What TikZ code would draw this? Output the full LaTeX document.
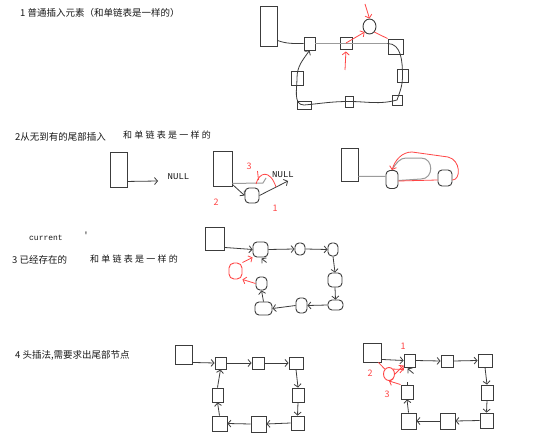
\documentclass[tikz,border=0pt]{standalone}
\usepackage{fontspec}
\newfontfamily\cjk{Noto Sans CJK SC}
\newfontfamily\cjkwide{Noto Sans CJK SC}[LetterSpace=25]
\newfontfamily\mono{Liberation Mono}
\usetikzlibrary{arrows.meta,shapes.geometric,calc}
\definecolor{ink}{RGB}{60,60,60}
\definecolor{pale}{RGB}{155,155,155}
\definecolor{pen}{RGB}{255,70,70}
\definecolor{txt}{RGB}{25,25,25}
\tikzset{
  sq/.style 2 args={draw=ink, line width=0.9pt, inner sep=0pt,
    minimum width=#1pt, minimum height=#2pt},
  rnd/.style 2 args={sq={#1}{#2}, rounded corners=4pt},
  ell/.style 2 args={sq={#1}{#2}, ellipse},
  ln/.style={draw=ink, line width=0.8pt},
  paleln/.style={draw=pale, line width=1pt},
  penln/.style={draw=pen, line width=0.8pt},
  arr/.style={-{Straight Barb[length=3pt,width=7pt]}},
  ttl/.style={anchor=west, inner sep=0pt, text=txt,
    font=\cjk\fontsize{9.5}{11}\selectfont},
  ttlw/.style={anchor=west, inner sep=0pt, text=txt,
    font=\cjkwide\fontsize{9}{11}\selectfont},
  nul/.style={inner sep=0pt, text=txt, font=\mono\fontsize{9}{10}\selectfont},
  lbl/.style={inner sep=0pt, text=pen, font=\cjk\fontsize{9}{10}\selectfont}
}
\begin{document}
\begin{tikzpicture}[x=1pt,y=1pt]
\useasboundingbox[fill=white] (0,0) rectangle (554,-441);

% ---------- 1: ordinary insertion ----------
\node[ttl] (h1) at (20,-12.5) {1 普通插入元素（和单链表是一样的）};
\node[sq={17}{40}] (r1) at (268.5,-26) {};
\node[sq={11}{13}] (b1) at (309.5,-43.5) {};
\node[sq={12}{12}] (b2) at (346,-43) {};
\node[ell={13}{15}] (e1) at (369.5,-26.5) {};
\node[sq={15}{15}] (b3) at (395.5,-46.5) {};
\node[sq={11}{13}] (b4) at (402.5,-75.5) {};
\node[sq={10}{10}] (b5) at (397,-100) {};
\node[sq={8}{11}]  (b6) at (349,-101.5) {};
\node[sq={14}{8}]  (b7) at (304,-105) {};
\node[sq={12}{14}] (b8) at (297,-78) {};
\draw[ln] ([yshift=6pt]r1.south east) to[out=-20,in=180] (b1.west);
\draw[paleln] (b1.east) -- ([yshift=3pt]b3.west);
\draw[ln,arr] ([yshift=3pt]b3.west) to[out=0,in=90] (b4.center)
  to[out=-90,in=70] (b5.center) to[out=-165,in=0] (b6.center)
  to[out=180,in=5] (b7.center) to[out=180,in=-90] (b8.center)
  to[out=90,in=-125] (b1.south);
\draw[penln,arr] (b2.center) -- (e1.south west);
\draw[penln] (e1.south east) -- (b3.north west);
\coordinate (t1) at (365,-4);
\draw[penln,arr] (t1) -- (e1.north);
\coordinate (t2) at (345,-70);
\draw[penln,arr,shorten >=2pt] (t2) -- (b2.south);

% ---------- 2: tail insertion from empty ----------
\node[ttl] (h2) at (15,-137) {2从无到有的尾部插入};
\node[ttlw] (h2b) at (123,-135) {和单链表是一样的};
\node[sq={17}{35}] (s1) at (118.5,-169.5) {};
\node[nul] (n1) at (178.5,-177) {NULL};
\coordinate (n1a) at (158,-181);
\draw[ln,arr] ([yshift=6pt]s1.south east) -- (n1a);

\node[sq={19}{35}] (s2) at (222.5,-168.5) {};
\node[rnd={14}{15}] (c1) at (252,-195.5) {};
\node[nul] (n2) at (283,-175) {NULL};
\coordinate (g1) at (263,-183);
\draw[paleln] ([yshift=3pt]s2.south east) -- (g1) -- ++(3,5);
\draw[ln,arr] ([yshift=2pt]s2.south east) -- (c1.west);
\coordinate (n2a) at (288,-181);
\draw[ln,arr] (c1.east) -- (n2a);
\draw[penln] (257.5,-171) -- (258.5,-180);
\draw[penln] (256,-184) .. controls (259,-172) and (270,-169) .. (276,-187);
\node[lbl] (l3a) at (249,-166) {3};
\node[lbl] (l2a) at (216,-202) {2};
\node[lbl] (l1a) at (275,-208) {1};

\node[sq={17}{33}] (s3) at (349.5,-164.5) {};
\node[rnd={12}{18}] (d1) at (392,-179.5) {};
\node[rnd={14}{16}] (d2) at (445,-178) {};
\draw[paleln] ([yshift=5pt]s3.south east) -- ([yshift=3pt]d1.west);
\draw[paleln] ([yshift=-1pt]d1.east) -- (421,-179)
  .. controls (434,-179) and (434,-158) .. (421,-158) -- (406,-158)
  .. controls (400,-158) and (396,-163) .. (d1.north);
\draw[penln] ([yshift=-1.5pt]d1.east) -- ([yshift=-2pt]d2.west);
\draw[penln,arr] ([yshift=-2pt]d2.east) .. controls (461,-180) and (461,-160) .. (448,-157)
  -- (412,-152) .. controls (402,-152) and (395,-160) .. (d1.north);

% ---------- 3: existing list ----------
\node[nul,font=\mono\fontsize{8}{9}\selectfont] (cur) at (46,-238) {current};
\node[nul] (tick) at (86,-235) {'};
\node[ttl] (h3) at (12,-259.5) {3 已经存在的};
\node[ttlw] (h3b) at (90,-259.5) {和单链表是一样的};
\node[sq={19}{23}] (q0) at (214.5,-238.5) {};
\node[rnd={15}{15}] (q1) at (260.5,-249.5) {};
\node[rnd={10}{12}] (q2) at (300,-249) {};
\node[rnd={10}{13}] (q3) at (333,-249.5) {};
\node[rnd={14}{14}] (q4) at (335,-280) {};
\node[rnd={15}{10}] (q5) at (335.5,-305) {};
\node[rnd={11}{15}] (q6) at (301.5,-305.5) {};
\node[rnd={17}{13}] (q7) at (263.5,-308.5) {};
\node[rnd={11}{13}] (q8) at (261.5,-283.5) {};
\node[draw=pen,line width=0.9pt,inner sep=0pt,minimum width=13pt,
  minimum height=16pt,rounded corners=5pt] (qr) at (235.5,-271) {};
\draw[ln,arr] ([yshift=3pt]q0.south east) -- (q1.west);
\draw[ln,arr] (q1.east) -- (q2.west);
\draw[ln,arr] (q2.east) -- (q3.west);
\draw[ln,arr] (q3.south) -- (q4.north);
\draw[ln,arr] (q4.south) -- (q5.north);
\draw[ln,arr] (q5.west) -- (q6.east);
\draw[ln,arr] (q6.west) -- (q7.east);
\draw[ln,arr] (q7.north) -- (q8.south);
\draw[penln,arr] (q8.west) -- (qr.south east);
\draw[penln,arr] (qr.north east) -- (q1.south west);
\draw[ln,arr] ($(q1.south)+(6,-5)$) -- ($(q1.south)+(1,-1)$);

% ---------- 4: head insertion ----------
\node[ttl] (h4) at (15,-355.5) {4 头插法,需要求出尾部节点};
\node[sq={17}{19}] (P0) at (183.5,-354.5) {};
\node[sq={11}{12}] (A) at (220.5,-363) {};
\node[sq={12}{12}] (B) at (258,-363) {};
\node[sq={14}{12}] (C) at (296,-363) {};
\node[sq={12}{14}] (D) at (298,-395) {};
\node[sq={13}{14}] (E) at (297.5,-423) {};
\node[sq={15}{16}] (F) at (258.5,-424) {};
\node[sq={15}{15}] (G) at (219.5,-423.5) {};
\node[sq={11}{14}] (H) at (217.5,-395) {};
\draw[ln,arr] ([yshift=2pt]P0.south east) -- (A.west);
\draw[ln,arr] (A.east) -- (B.west);
\draw[ln,arr] (B.east) -- (C.west);
\draw[ln,arr] (C.south) -- (D.north);
\draw[ln,arr] (D.south) -- (E.north);
\draw[ln,arr] (E.west) -- (F.east);
\draw[ln,arr] (F.west) -- (G.east);
\draw[ln,arr] (G.north) -- (H.south);
\draw[ln,arr] (H.north) -- (A.south);

\node[sq={18}{19}] (R0) at (372,-352.5) {};
\node[sq={11}{13}] (RA) at (409.5,-360.5) {};
\node[sq={12}{12}] (RB) at (447,-361) {};
\node[sq={14}{13}] (RC) at (485,-360.5) {};
\node[sq={12}{15}] (RD) at (487,-392.5) {};
\node[sq={13}{15}] (RE) at (486.5,-420.5) {};
\node[sq={15}{16}] (RF) at (447.5,-421) {};
\node[sq={15}{16}] (RG) at (408.5,-421) {};
\node[sq={12}{14}] (RH) at (407,-392) {};
\node[ell={11}{13},draw=pen] (Rr) at (389,-374) {};
\draw[ln,arr] ([yshift=3pt]R0.south east) -- (RA.west);
\draw[ln,arr] (RA.east) -- (RB.west);
\draw[ln,arr] (RB.east) -- (RC.west);
\draw[ln,arr] (RC.south) -- (RD.north);
\draw[ln,arr] (RD.south) -- (RE.north);
\draw[ln,arr] (RE.west) -- (RF.east);
\draw[ln,arr] (RF.west) -- (RG.east);
\draw[ln,arr] (RG.north) -- (RH.south);
\draw[ln] (RH.north) -- ++(0,3);
\draw[ln,arr] ($(RA.south)+(4,-6)$) -- ($(RA.south)+(-2,-1)$);
\draw[penln] ([xshift=-3pt]R0.south east) -- (Rr.north west);
\draw[penln,arr] (Rr.north east) -- ([yshift=-2pt]RA.south west);
\draw[penln,arr] (Rr.east) -- ([yshift=2pt]RA.south west);
\draw[penln,arr] (RH.north west) -- (Rr.south);
\node[lbl] (l1b) at (403,-346) {1};
\node[lbl] (l2b) at (370,-373) {2};
\node[lbl] (l3b) at (387,-394) {3};
\end{tikzpicture}
\end{document}
